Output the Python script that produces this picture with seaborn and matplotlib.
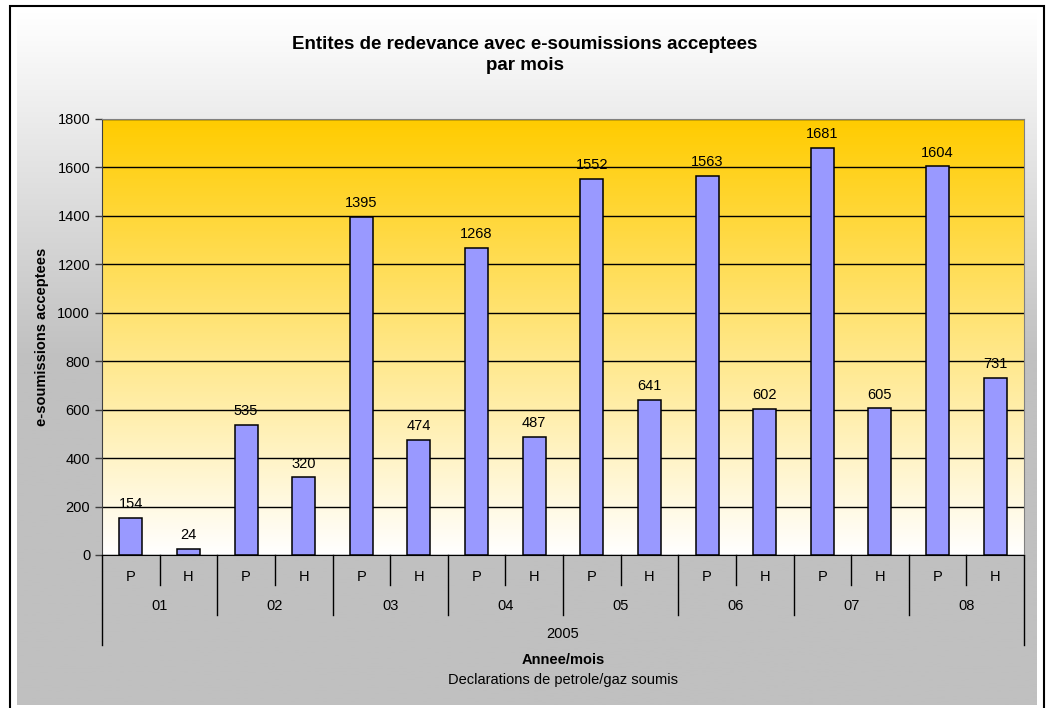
import matplotlib

matplotlib.use("Agg")
import matplotlib.pyplot as plt
import matplotlib.transforms as mtransforms
import numpy as np
import pandas as pd
import seaborn as sns
from matplotlib.colors import LinearSegmentedColormap
from matplotlib.patches import Rectangle

# --------------------------------------------------------------------------- #
# Data
# --------------------------------------------------------------------------- #

year = "2005"
months = ["01", "02", "03", "04", "05", "06", "07", "08"]
types = ["P", "H"]
values = [154, 24, 535, 320, 1395, 474, 1268, 487,
          1552, 641, 1563, 602, 1681, 605, 1604, 731]
y_ticks = [0, 200, 400, 600, 800, 1000, 1200, 1400, 1600, 1800]

title = "Entites de redevance avec e-soumissions acceptees\npar mois"
y_label = "e-soumissions acceptees"
x_label = "Annee/mois"
x_sublabel = "Declarations de petrole/gaz soumis"

labels = [f"{m}-{t}" for m in months for t in types]
df = pd.DataFrame({"label": labels, "value": values})

# --------------------------------------------------------------------------- #
# Figure
# --------------------------------------------------------------------------- #

W, H = 1049, 708
plt.rcParams["font.family"] = ["Liberation Sans", "DejaVu Sans"]
fig = plt.figure(figsize=(W / 100, H / 100), dpi=100)

# chart area: white -> grey gradient
bg = fig.add_axes([17 / W, 3 / H, 1020 / W, 693 / H], zorder=0)
bg_cmap = LinearSegmentedColormap.from_list("bg", ["#ffffff", "#c0c0c0", "#c0c0c0"])
grad = np.linspace(0, 1, 256).reshape(-1, 1)
bg.imshow(grad, aspect="auto", cmap=bg_cmap, extent=[0, 1, 0, 1], origin="upper")
bg.axis("off")

fig.patches.append(
    Rectangle((10 / W, -0.02), 1034 / W, (H - 6) / H + 0.02, fill=False,
              edgecolor="black", linewidth=1.5, transform=fig.transFigure,
              figure=fig)
)

ax_h = 436
ax = fig.add_axes([102 / W, (H - 555) / H, 922 / W, ax_h / H], zorder=2)
ax.patch.set_alpha(0)

sns.barplot(data=df, x="label", y="value", color="#9999ff", saturation=1,
            edgecolor="black", linewidth=1.1, width=0.4, ax=ax)

# plot area gradient (gold -> white)
pa_cmap = LinearSegmentedColormap.from_list("pa", ["#ffffff", "#ffcc00"])
ax.imshow(np.linspace(0, 1, 256).reshape(-1, 1), aspect="auto", cmap=pa_cmap,
          extent=[-0.5, len(values) - 0.5, 0, 1800], origin="lower", zorder=0)

ax.set_xlim(-0.5, len(values) - 0.5)
ax.set_ylim(0, 1800)
ax.set_yticks(y_ticks)
ax.yaxis.grid(True, color="black", linewidth=1)
ax.set_axisbelow(True)
ax.tick_params(axis="y", labelsize=10.5, length=5, width=1, color="#404040")
ax.tick_params(axis="x", length=0, labelbottom=False)
ax.set_xlabel("")
ax.set_ylabel("")
for side in ["top", "right"]:
    ax.spines[side].set_color("#808080")
ax.spines["left"].set_color("#404040")
ax.spines["bottom"].set_color("black")

ax.bar_label(ax.containers[0], padding=5, fontsize=10.5)

# multi-level category axis
trans = mtransforms.blended_transform_factory(ax.transData, ax.transAxes)
n = len(values)
for k in range(n + 1):
    if k in (0, n):
        depth = 90
    elif k % 2 == 0:
        depth = 60
    else:
        depth = 30
    ax.plot([k - 0.5, k - 0.5], [0, -depth / ax_h], transform=trans,
            color="black", linewidth=1, clip_on=False)

for i, lab in enumerate(labels):
    ax.text(i, -22 / ax_h, lab.split("-")[1], transform=trans, ha="center",
            va="center", fontsize=10.5)
for j, m in enumerate(months):
    ax.text(2 * j + 0.5, -51 / ax_h, m, transform=trans, ha="center",
            va="center", fontsize=10.5)
ax.text((n - 1) / 2, -79 / ax_h, year, transform=trans, ha="center",
        va="center", fontsize=10.5)
ax.text((n - 1) / 2, -105 / ax_h, x_label, transform=trans, ha="center",
        va="center", fontsize=10.5, fontweight="bold")
ax.text((n - 1) / 2, -125 / ax_h, x_sublabel, transform=trans, ha="center",
        va="center", fontsize=10.5)

fig.text(525 / W, 1 - 55 / H, title, ha="center", va="center", fontsize=13.5,
         fontweight="bold", linespacing=1.35)
fig.text(42 / W, 1 - 337 / H, y_label, ha="center", va="center", rotation=90,
         fontsize=10.5, fontweight="bold")

fig.savefig("out.png", dpi=100)
